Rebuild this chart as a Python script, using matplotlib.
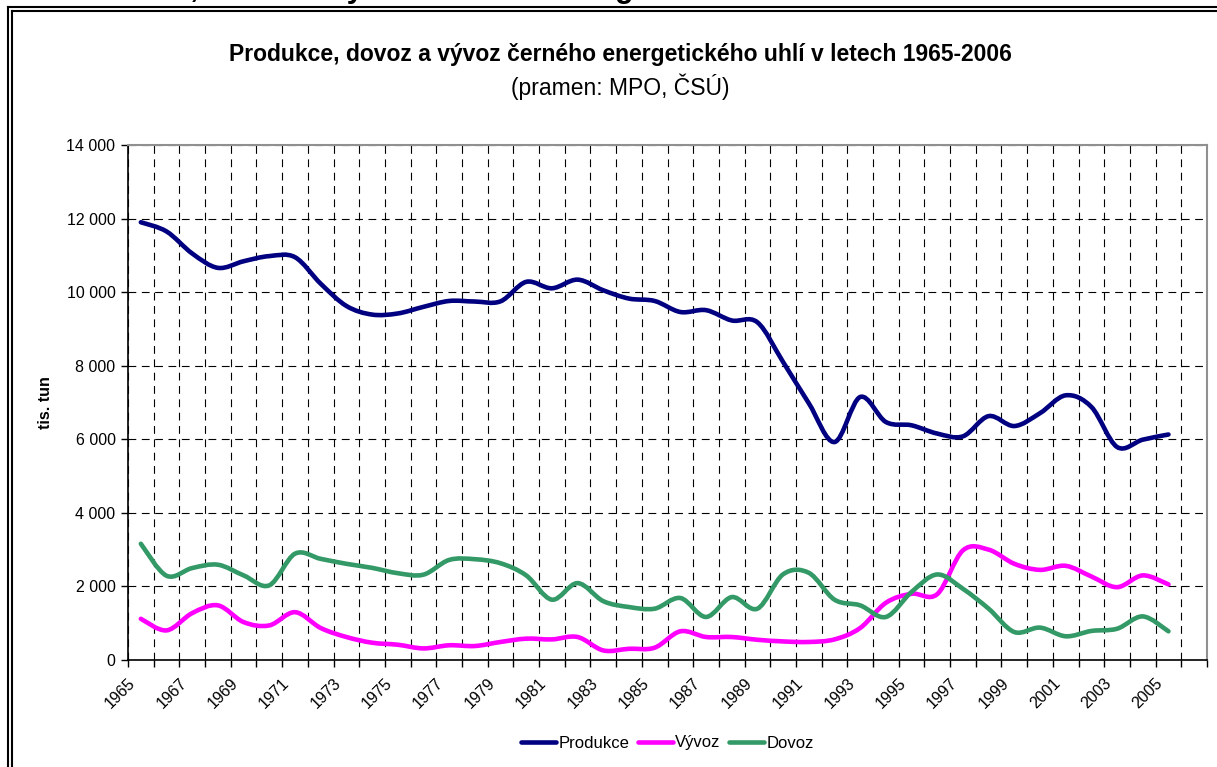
import numpy as np
import matplotlib
matplotlib.use("Agg")
import matplotlib.pyplot as plt
from matplotlib.path import Path
from matplotlib.patches import PathPatch
from matplotlib.lines import Line2D
from matplotlib.transforms import ScaledTranslation

plt.rcParams['font.family'] = ['Liberation Sans', 'DejaVu Sans']

# data (tis. tun), 2006 category is empty in the source chart
years = list(range(1965, 2007))
produkce = [11900, 11650, 11050, 10660, 10840, 10980, 10950, 10230, 9625, 9390,
            9420, 9600, 9760, 9745, 9750, 10280, 10105, 10340, 10050, 9825,
            9760, 9460, 9510, 9230, 9180, 8100, 6980, 5925, 7150, 6470,
            6380, 6155, 6080, 6630, 6360, 6710, 7195, 6880, 5790, 5990,
            6130, np.nan]
vyvoz = [1120, 805, 1275, 1485, 1030, 940, 1300, 870, 625, 470,
         415, 315, 400, 380, 490, 580, 560, 625, 260, 305,
         335, 780, 625, 625, 550, 505, 490, 560, 870, 1555,
         1800, 1790, 2980, 3000, 2615, 2450, 2560, 2270, 1980, 2300,
         2055, np.nan]
dovoz = [3160, 2290, 2500, 2590, 2300, 2030, 2890, 2750, 2615, 2505,
         2360, 2320, 2720, 2740, 2630, 2300, 1640, 2090, 1600, 1440,
         1395, 1685, 1170, 1710, 1395, 2330, 2370, 1640, 1485, 1170,
         1850, 2325, 1935, 1395, 760, 880, 645, 790, 850, 1185,
         780, np.nan]

series_names = ['Produkce', 'Vývoz', 'Dovoz']
series_colors = ['#000080', '#FF00FF', '#339966']
ytick_values = [0, 2000, 4000, 6000, 8000, 10000, 12000, 14000]
ytick_labels = ['0', '2 000', '4 000', '6 000', '8 000', '10 000', '12 000', '14 000']
title = 'Produkce, dovoz a vývoz černého energetického uhlí v letech 1965-2006'


def smooth_path(xs, ys):
    # excel-like smoothed line: bezier segments through the points
    pts = [(x, y) for x, y in zip(xs, ys) if not np.isnan(y)]
    pts = np.array(pts, dtype=float)
    n = len(pts)
    verts = [pts[0]]
    codes = [Path.MOVETO]
    for i in range(n - 1):
        p0 = pts[i - 1] if i > 0 else pts[i]
        p1 = pts[i]
        p2 = pts[i + 1]
        p3 = pts[i + 2] if i + 2 < n else pts[i + 1]
        verts += [p1 + (p2 - p0) / 6, p2 - (p3 - p1) / 6, p2]
        codes += [Path.CURVE4] * 3
    return Path(verts, codes)


W, H = 1217, 767
fig = plt.figure(figsize=(W / 100, H / 100), dpi=100)
ax = fig.add_axes([128 / W, 1 - 660 / H, (1207 - 128) / W, (660 - 145) / H])

x = np.arange(len(years))
handles = []
for name, vals, col in zip(series_names, [produkce, vyvoz, dovoz], series_colors):
    patch = PathPatch(smooth_path(x, vals), fill=False, edgecolor=col, lw=3.3,
                      capstyle='round', joinstyle='round', zorder=3)
    ax.add_patch(patch)
    handles.append(Line2D([], [], color=col, lw=3.3, solid_capstyle='round', label=name))

ax.set_xlim(-0.5, len(years) - 0.5)
ax.set_ylim(0, 14000)

# category boundaries -> tick marks and grid
ax.set_xticks(np.arange(-0.5, len(years), 1))
ax.set_xticklabels([])
ax.set_xticks(x[::2], minor=True)
ax.set_xticklabels([str(y) for y in years[::2]], minor=True, rotation=45,
                   ha='right', va='center', rotation_mode='anchor', fontsize=11.5)
ax.tick_params(axis='x', which='major', direction='out', length=5, width=1, color='black')
ax.tick_params(axis='x', which='minor', length=0, pad=15)
for lab in ax.get_xticklabels(minor=True):
    lab.set_transform(lab.get_transform() + ScaledTranslation(-0.08, 0, fig.dpi_scale_trans))

ax.set_yticks(ytick_values)
ax.set_yticklabels(ytick_labels, fontsize=11.5)
ax.tick_params(axis='y', direction='out', length=5, width=1, color='black', pad=4)

ax.grid(True, which='major', color='black', lw=0.8, linestyle=(0, (7, 5)))
ax.set_axisbelow(True)

for side in ['top', 'right']:
    ax.spines[side].set_color('#909090')
    ax.spines[side].set_linewidth(1.5)
for side in ['left', 'bottom']:
    ax.spines[side].set_color('black')
    ax.spines[side].set_linewidth(1.2)

ax.set_ylabel('tis. tun', fontsize=11.5, fontweight='bold')
ax.yaxis.set_label_coords(-(128 - 53) / (1207 - 128), 0.5)

fig.text(620 / W, 1 - 55 / H, title, ha='center', va='center', fontsize=16.5, fontweight='bold')
fig.text(620 / W, 1 - 87 / H, '(pramen: MPO, ČSÚ)', ha='center', va='center', fontsize=16.5)

# heading of the page above the chart, mostly cut off by the top edge
fig.text(1097 / W, 1 + 3 / H, title, ha='right', va='baseline', fontsize=22, fontweight='bold')

# double frame around the chart
for off in [8.3, 12.3]:
    fig.add_artist(Line2D([off / W, off / W], [0, 1 - (off - 1) / H], color='black', lw=1.5,
                          transform=fig.transFigure))
    fig.add_artist(Line2D([off / W, 1], [1 - (off - 1) / H, 1 - (off - 1) / H], color='black', lw=1.5,
                          transform=fig.transFigure))

fig.legend(handles=handles, loc='center', bbox_to_anchor=(667.5 / W, 1 - 743 / H), ncol=3,
           frameon=False, fontsize=12, handlelength=2.1, handletextpad=0.15,
           columnspacing=0.5)

fig.savefig('out.png', dpi=100)
